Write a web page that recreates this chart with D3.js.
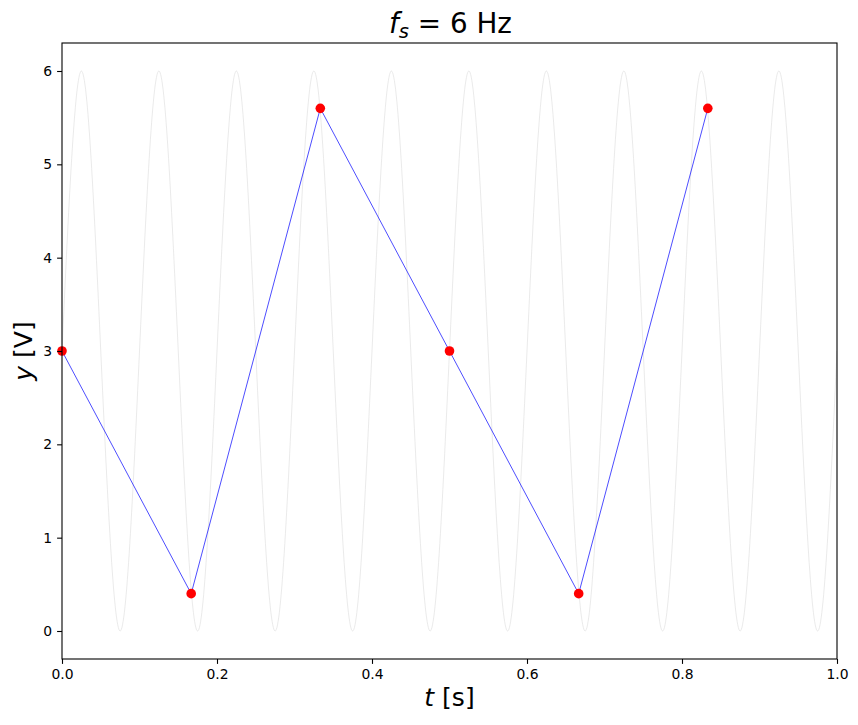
<!DOCTYPE html>
<html>
<head>
<meta charset="utf-8">
<script src="https://cdn.jsdelivr.net/npm/d3@7"></script>
<style>
  body { margin: 0; background: #fff; }
  svg text { font-family: "DejaVu Sans", sans-serif; }
</style>
</head>
<body>
<div id="chart"></div>
<script>
const sampleT = [0, 0.1667, 0.3333, 0.5, 0.6667, 0.8333];
const sampleY = [3.0, 0.40, 5.60, 3.0, 0.40, 5.60];

// underlying signal: crossings and extrema every quarter period
const waveT = [0, 0.025, 0.05, 0.075, 0.1, 0.125, 0.15, 0.175, 0.2, 0.225,
  0.25, 0.275, 0.3, 0.325, 0.35, 0.375, 0.4, 0.425, 0.45, 0.475,
  0.5, 0.525, 0.55, 0.575, 0.6, 0.625, 0.65, 0.675, 0.7, 0.725,
  0.75, 0.775, 0.8, 0.825, 0.85, 0.875, 0.9, 0.925, 0.95, 0.975, 1.0];
const waveY = [3, 6, 3, 0, 3, 6, 3, 0, 3, 6,
  3, 0, 3, 6, 3, 0, 3, 6, 3, 0,
  3, 6, 3, 0, 3, 6, 3, 0, 3, 6,
  3, 0, 3, 6, 3, 0, 3, 6, 3, 0, 3];

const xTicks = [0, 0.2, 0.4, 0.6, 0.8, 1.0];
const yTicks = [0, 1, 2, 3, 4, 5, 6];

const W = 858, H = 725;
const m = {left: 62, right: 21, top: 43, bottom: 66};

const svg = d3.select("#chart").append("svg").attr("width", W).attr("height", H);

const x = d3.scaleLinear().domain([0, 1]).range([m.left, W - m.right]);
const y = d3.scaleLinear().domain([-0.3, 6.3]).range([H - m.bottom, m.top]);

const wave = waveT.map((t, i) => [t, waveY[i]]);
const samples = sampleT.map((t, i) => [t, sampleY[i]]);

// clip to axes
svg.append("clipPath").attr("id", "clip").append("rect")
  .attr("x", m.left).attr("y", m.top)
  .attr("width", W - m.left - m.right).attr("height", H - m.top - m.bottom);

const line = d3.line().x(d => x(d[0])).y(d => y(d[1]));

svg.append("path").datum(wave)
  .attr("clip-path", "url(#clip)")
  .attr("fill", "none").attr("stroke", "#d8d8d8").attr("stroke-width", 0.55)
  .attr("d", line.curve(d3.curveNatural));

svg.append("path").datum(samples)
  .attr("fill", "none").attr("stroke", "blue").attr("stroke-width", 0.7)
  .attr("d", d3.line().x(d => x(d[0])).y(d => y(d[1])));

svg.append("g").selectAll("circle").data(samples).enter().append("circle")
  .attr("cx", d => x(d[0])).attr("cy", d => y(d[1])).attr("r", 4.8)
  .attr("fill", "red");

// axes
const xAxis = svg.append("g").attr("transform", `translate(0,${H - m.bottom})`)
  .call(d3.axisBottom(x).tickValues(xTicks).tickFormat(d3.format(".1f")).tickSizeOuter(0).tickSize(4.9).tickPadding(4.9));
const yAxis = svg.append("g").attr("transform", `translate(${m.left},0)`)
  .call(d3.axisLeft(y).tickValues(yTicks).tickFormat(d3.format("d")).tickSizeOuter(0).tickSize(4.9).tickPadding(4.9));
[xAxis, yAxis].forEach(a => {
  a.select(".domain").remove();
  a.selectAll("line").attr("stroke", "#000").attr("stroke-width", 1.1);
  a.selectAll("text").attr("font-size", 13.9).attr("fill", "#000")
    .style("font-family", "DejaVu Sans");
});

// frame
svg.append("rect")
  .attr("x", m.left).attr("y", m.top)
  .attr("width", W - m.left - m.right).attr("height", H - m.top - m.bottom)
  .attr("fill", "none").attr("stroke", "#000").attr("stroke-width", 1.1);

// title
const title = svg.append("text").attr("x", (m.left + W - m.right) / 2 + 1).attr("y", 33)
  .attr("text-anchor", "middle").attr("font-size", 27.8);
title.append("tspan").attr("font-style", "italic").text("f");
title.append("tspan").attr("font-style", "italic").attr("font-size", 19.5).attr("dy", 5).text("s");
title.append("tspan").attr("dy", -5).text(" = 6 Hz");

// axis labels
const xl = svg.append("text").attr("x", (m.left + W - m.right) / 2).attr("y", 706)
  .attr("text-anchor", "middle").attr("font-size", 25);
xl.append("tspan").attr("font-style", "italic").text("t");
xl.append("tspan").text(" [s]");

const yl = svg.append("text")
  .attr("transform", `translate(32,${(m.top + H - m.bottom) / 2}) rotate(-90)`)
  .attr("text-anchor", "middle").attr("font-size", 25);
yl.append("tspan").attr("font-style", "italic").text("y");
yl.append("tspan").text(" [V]");
</script>
</body>
</html>
